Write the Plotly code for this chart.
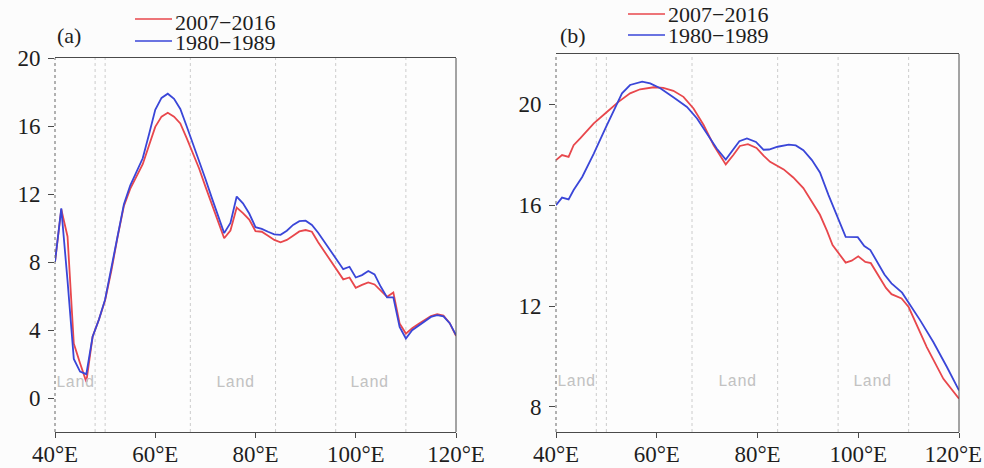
import plotly.graph_objects as go

# ---------------- data ----------------
lon_a = [40, 41.25, 42.5, 43.75, 45, 46.25, 47.5, 48.75, 50, 51.25, 52.5, 53.75, 55, 56.25,
         57.5, 58.75, 60, 61.25, 62.5, 63.75, 65, 66.25, 67.5, 68.75, 70, 71.25, 72.5, 73.75,
         75, 76.25, 77.5, 78.75, 80, 81.25, 82.5, 83.75, 85, 86.25, 87.5, 88.75, 90, 91.25,
         92.5, 93.75, 95, 96.25, 97.5, 98.75, 100, 101.25, 102.5, 103.75, 105, 106.25, 107.5,
         108.75, 110, 111.25, 112.5, 113.75, 115, 116.25, 117.5, 118.75, 120]
a_1980 = [8.0, 11.15, 6.9, 2.3, 1.55, 1.4, 3.6, 4.6, 5.8, 7.6, 9.6, 11.4, 12.5, 13.3,
          14.1, 15.5, 16.95, 17.65, 17.9, 17.6, 17.0, 16.0, 15.0, 14.0, 12.9, 11.8, 10.8, 9.7,
          10.3, 11.85, 11.45, 10.85, 10.05, 9.95, 9.78, 9.63, 9.6, 9.84, 10.18, 10.4, 10.43, 10.18,
          9.72, 9.19, 8.66, 8.11, 7.58, 7.72, 7.09, 7.23, 7.47, 7.27, 6.54, 5.92, 5.92,
          4.18, 3.5, 3.99, 4.26, 4.52, 4.77, 4.87, 4.8, 4.4, 3.7]
a_2007 = [8.0, 11.1, 9.5, 3.2, 2.05, 0.95, 3.6, 4.6, 5.75, 7.5, 9.5, 11.3, 12.3, 13.0,
          13.75, 14.85, 15.95, 16.55, 16.78, 16.55, 16.15, 15.3, 14.4, 13.5, 12.45, 11.4, 10.4, 9.4,
          9.85, 11.2, 10.88, 10.5, 9.82, 9.78, 9.55, 9.3, 9.16, 9.3, 9.55, 9.8, 9.88, 9.78,
          9.16, 8.6, 8.04, 7.48, 6.98, 7.09, 6.48, 6.65, 6.8, 6.68, 6.3, 5.95, 6.21,
          4.38, 3.79, 4.1, 4.35, 4.6, 4.82, 4.93, 4.85, 4.4, 3.65]

lon_b_1980 = [40, 41.2, 42.5, 43.5, 45.2, 47.5, 49.8, 51.4, 53.1, 54.7, 57.1, 58.7, 60.7, 63.3, 66,
              68, 70, 71.9, 73.7, 75.1, 76.4, 77.9, 79.7, 81.2, 82.3, 84, 86.2, 87.6, 89.1, 90.8,
              92.4, 94.1, 95.7, 97.5, 99.9, 101.2, 102.4, 105.2, 106.6, 108.7, 112.3, 114.9, 117.6, 120]
b_1980 = [16.0, 16.3, 16.23, 16.6, 17.12, 18.05, 19.05, 19.7, 20.44, 20.77, 20.9, 20.83, 20.64, 20.28, 19.9,
          19.44, 18.85, 18.25, 17.81, 18.18, 18.54, 18.65, 18.51, 18.2, 18.21, 18.32, 18.4, 18.37, 18.18, 17.79,
          17.3, 16.4, 15.6, 14.74, 14.73, 14.38, 14.22, 13.25, 12.9, 12.53, 11.43, 10.57, 9.58, 8.65]

lon_b_2007 = [40, 41.2, 42.5, 43.5, 44.8, 47.5, 50.1, 52.4, 54.7, 56.7, 59.4, 61.3, 63.3, 65.3, 67.3,
              69.3, 71.3, 73.7, 75.2, 76.5, 78.1, 79.8, 81.2, 82.5, 85.2, 87.1, 89.1, 90.8, 92.4, 93.8,
              94.9, 97.5, 98.7, 100, 101.4, 102.5, 105.5, 106.6, 108.6, 110, 113.6, 116.9, 120]
b_2007 = [17.79, 17.99, 17.92, 18.38, 18.65, 19.25, 19.7, 20.1, 20.44, 20.6, 20.68, 20.66, 20.54, 20.3, 19.84,
          19.18, 18.38, 17.62, 17.99, 18.35, 18.42, 18.27, 17.97, 17.72, 17.42, 17.1, 16.68, 16.15, 15.62, 14.98,
          14.42, 13.72, 13.8, 13.97, 13.75, 13.7, 12.72, 12.47, 12.3, 11.96, 10.37, 9.11, 8.32]

series_names = ["2007\u22122016", "1980\u22121989"]
land_lines = [48, 50, 67, 84, 96, 110]
land_label_lons = [44, 76, 102.7]
xtick_vals = [40, 60, 80, 100, 120]
xtick_text_a = ["40°E", "60°E", "80°E", "100°E", "120°E"]
xtick_text_b = ["40°E", "60°E", "80°E", "100°E",
                "120°E<span style='color:rgba(0,0,0,0)'>0</span>"]
a_yticks = [0, 4, 8, 12, 16, 20]
b_yticks = [8, 12, 16, 20]

# ---------------- style ----------------
RED = "#e8474c"
BLUE = "#3a46d8"
W, H = 984, 468
SERIF = "Liberation Serif"
FRAME = "#4a4a4a"


def xp(p):
    return p / W


def yp(p):
    return 1 - p / H


fig = go.Figure()
fig.add_trace(go.Scatter(x=lon_a, y=a_2007, mode="lines", line=dict(color=RED, width=1.8),
                         name=series_names[0], showlegend=False, xaxis="x", yaxis="y"))
fig.add_trace(go.Scatter(x=lon_a, y=a_1980, mode="lines", line=dict(color=BLUE, width=1.8),
                         name=series_names[1], showlegend=False, xaxis="x", yaxis="y"))
fig.add_trace(go.Scatter(x=lon_b_2007, y=b_2007, mode="lines", line=dict(color=RED, width=1.8),
                         name=series_names[0], showlegend=False, xaxis="x2", yaxis="y2"))
fig.add_trace(go.Scatter(x=lon_b_1980, y=b_1980, mode="lines", line=dict(color=BLUE, width=1.8),
                         name=series_names[1], showlegend=False, xaxis="x2", yaxis="y2"))

tickfont = dict(family=SERIF, size=23, color="#1e1e1e")
xcommon = dict(range=[40, 120], tickvals=xtick_vals, ticks="outside",
               ticklen=5, tickcolor=FRAME, showline=True, mirror=True, linecolor=FRAME,
               linewidth=1, showgrid=False, zeroline=False, tickfont=tickfont, automargin=False,
               ticklabeloverflow="allow", ticklabelstandoff=-4)
ycommon = dict(ticks="outside", ticklen=6, tickcolor=FRAME, showline=False, showgrid=False,
               zeroline=False, tickfont=tickfont, ticklabelstandoff=3, automargin=False,
               ticklabeloverflow="allow")

fig.update_layout(
    width=W, height=H, autosize=False,
    margin=dict(l=0, r=0, t=0, b=0, pad=0, autoexpand=False),
    paper_bgcolor="#fcfcfc", plot_bgcolor="#fdfdfd",
    xaxis=dict(domain=[xp(55), xp(456)], anchor="y", ticktext=xtick_text_a, **xcommon),
    yaxis=dict(domain=[yp(432), yp(58)], anchor="x", range=[-2, 20], tickvals=a_yticks, **ycommon),
    xaxis2=dict(domain=[xp(556), xp(959)], anchor="y2", ticktext=xtick_text_b, **xcommon),
    yaxis2=dict(domain=[yp(432), yp(54)], anchor="x2", range=[7, 22], tickvals=b_yticks, **ycommon),
)

shapes = []
for xa, ya in (("x", "y"), ("x2", "y2")):
    for lon in land_lines:
        shapes.append(dict(type="line", xref=xa, yref=ya + " domain", x0=lon, x1=lon, y0=0, y1=1,
                           line=dict(color="#cccccc", width=1, dash="dot"), layer="below"))
    # left edge (dotted) and right edge (solid) of the frame
    shapes.append(dict(type="line", xref=xa + " domain", yref=ya + " domain", x0=0, x1=0, y0=0, y1=1,
                       line=dict(color="#666666", width=1, dash="dot")))
    shapes.append(dict(type="line", xref=xa + " domain", yref=ya + " domain", x0=1, x1=1, y0=0, y1=1,
                       line=dict(color=FRAME, width=1)))

annotations = []
# "Land" labels
for xa, ya, yv in (("x", "y", 0.9), ("x2", "y2", 9.0)):
    for lon in land_label_lons:
        annotations.append(dict(x=lon, y=yv, xref=xa, yref=ya, text="Land", showarrow=False,
                                font=dict(family="Liberation Mono", size=16, color="#c2c2c2"),
                                xanchor="center", yanchor="middle"))

# panel labels
annotations.append(dict(x=xp(55), y=yp(36), xref="paper", yref="paper", text="(a)", showarrow=False,
                        xanchor="left", yanchor="middle", font=dict(family=SERIF, size=22, color="#1e1e1e")))
annotations.append(dict(x=xp(558), y=yp(36), xref="paper", yref="paper", text="(b)", showarrow=False,
                        xanchor="left", yanchor="middle", font=dict(family=SERIF, size=22, color="#1e1e1e")))

# legends (drawn manually to match compact spacing)
legend_specs = [
    (135, 172, [(19, 22, RED, series_names[0]), (41, 42, BLUE, series_names[1])]),
    (628, 665, [(14, 15, RED, series_names[0]), (35, 36, BLUE, series_names[1])]),
]
for x0, x1, items in legend_specs:
    for ly, ty, col, txt in items:
        shapes.append(dict(type="line", xref="paper", yref="paper", x0=xp(x0), x1=xp(x1),
                           y0=yp(ly), y1=yp(ly), line=dict(color=col, width=1.3)))
        annotations.append(dict(x=xp(x1 + 1), y=yp(ty), xref="paper", yref="paper", text=txt,
                                showarrow=False, xanchor="left", yanchor="middle",
                                font=dict(family=SERIF, size=22, color="#1e1e1e")))

fig.update_layout(shapes=shapes, annotations=annotations)
fig.write_html("out.html")
